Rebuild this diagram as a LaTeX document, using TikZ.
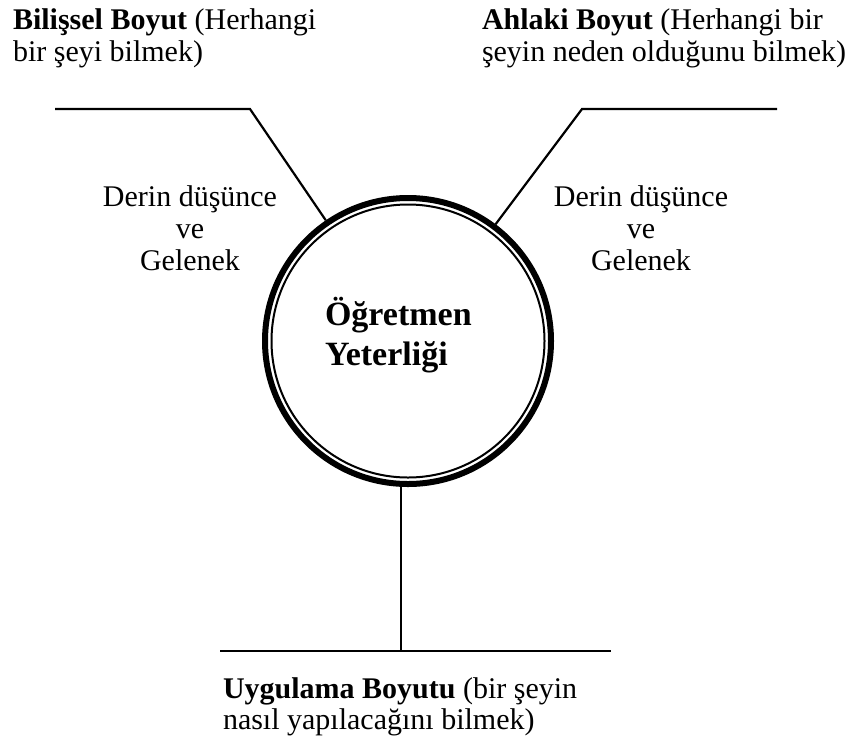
\documentclass[tikz,border=0pt]{standalone}
\usepackage{fontspec}
\setmainfont{Liberation Serif}
\usepackage{xcolor}
\usepackage{tikz}
\usetikzlibrary{positioning, calc}
\tikzset{
    base/.style={
        inner sep=0pt,
        outer sep=0pt,
        text=black
    },
    caption/.style={
        base,
        align=left,
        anchor=base west,
        font=\fontsize{30}{32}\selectfont
    },
    bridge/.style={
        base,
        align=center,
        anchor=base,
        font=\fontsize{30}{32}\selectfont
    },
    title/.style={
        base,
        align=left,
        anchor=base west,
        font=\fontsize{34}{40}\selectfont\bfseries
    },
    ring/.style={
        circle,
        draw=black,
        inner sep=0pt
    },
    link/.style={
        draw=black,
        line width=2.2pt,
        line join=miter
    }
}

\begin{document}
\begin{tikzpicture}[x=1pt, y=-1pt]
    \useasboundingbox (0,0) rectangle (854,748);

    % Teacher competence circle
    \node[ring, line width=6pt, minimum size=286pt] (core) at (408,341) {};
    \node[ring, line width=2pt, minimum size=273pt] (coreIn) at (core.center) {};
    \node[title] (coreText) at (325,365) {Öğretmen\\Yeterliği};

    % Cognitive dimension
    \coordinate (cogEnd) at (55,109);
    \coordinate (cogKnee) at (250,109);
    \draw[link] (cogEnd) -- (cogKnee) -- (core);
    \node[caption] (cog) at (13,61) {\textbf{Bilişsel Boyut} (Herhangi\\bir şeyi bilmek)};
    \node[bridge] (cogLink) at (190,270) {Derin düşünce\\ve\\Gelenek};

    % Moral dimension
    \coordinate (morEnd) at (777,109);
    \coordinate (morKnee) at (582,109);
    \draw[link] (morEnd) -- (morKnee) -- (core);
    \node[caption] (mor) at (482,61) {\textbf{Ahlaki Boyut} (Herhangi bir\\şeyin neden olduğunu bilmek)};
    \node[bridge] (morLink) at (641,270) {Derin düşünce\\ve\\Gelenek};

    % Practical dimension
    \coordinate (praLeft) at (220,651);
    \coordinate (praRight) at (611,651);
    \coordinate (praFoot) at (401,651);
    \draw[link] (praLeft) -- (praRight);
    \draw[link] (praFoot) -- (praFoot |- core.south);
    \node[caption, font=\fontsize{30}{31}\selectfont] (pra) at (223,729) {\textbf{Uygulama Boyutu} (bir şeyin\\nasıl yapılacağını bilmek)};
\end{tikzpicture}
\end{document}
